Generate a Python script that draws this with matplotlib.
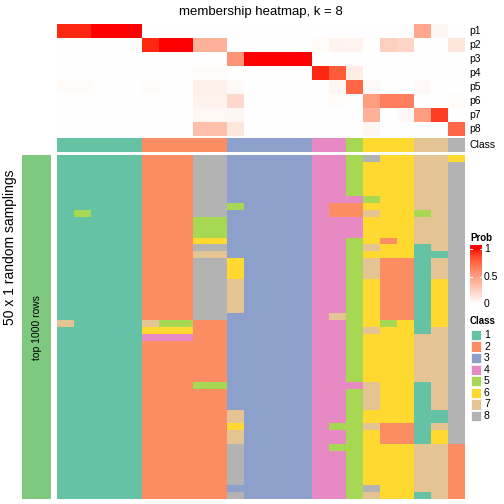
import numpy as np
import matplotlib
matplotlib.use("Agg")
import matplotlib.pyplot as plt
from matplotlib.colors import ListedColormap
from matplotlib.patches import Rectangle

# ---------------- data ----------------
title = "membership heatmap, k = 8"
prob_labels = ["p1", "p2", "p3", "p4", "p5", "p6", "p7", "p8"]
class_ids = [1, 2, 3, 4, 5, 6, 7, 8]
class_colors = ["#66C2A5", "#FC8D62", "#8DA0CB", "#E78AC3",
                "#A6D854", "#FFD92F", "#E5C494", "#B3B3B3"]
sample_class = [1, 1, 1, 1, 1, 2, 2, 2, 2, 2, 3, 3, 3, 3, 3, 4, 4, 5, 6, 6, 6, 7, 7, 8]

p1 = [0.95, 0.95, 1, 1, 1, 0, 0, 0, 0, 0, 0, 0, 0, 0, 0, 0, 0, 0, 0, 0, 0, 0.45, 0.05, 0]
p2 = [0, 0, 0, 0, 0, 0.95, 1, 1, 0.4, 0.4, 0, 0, 0, 0, 0, 0.02, 0.06, 0.06, 0, 0.25, 0.22, 0, 0, 0.13]
p3 = [0, 0, 0, 0, 0, 0, 0, 0, 0, 0, 0.55, 1, 1, 1, 1, 0, 0, 0, 0, 0, 0, 0, 0, 0]
p4 = [0, 0, 0, 0, 0, 0, 0, 0, 0.02, 0.02, 0, 0, 0, 0, 0, 0.95, 0.8, 0.1, 0, 0, 0, 0, 0, 0]
p5 = [0.02, 0.02, 0, 0, 0, 0.02, 0, 0, 0.08, 0.08, 0.03, 0, 0, 0, 0, 0, 0.05, 0.75, 0.03, 0, 0, 0.03, 0, 0]
p6 = [0, 0, 0, 0, 0, 0, 0, 0, 0.07, 0.07, 0.2, 0, 0, 0, 0, 0, 0.02, 0, 0.5, 0.65, 0.65, 0, 0, 0.02]
p7 = [0, 0, 0, 0, 0, 0, 0, 0, 0.04, 0.04, 0.05, 0, 0, 0, 0, 0, 0, 0, 0.4, 0, 0.03, 0.5, 0.9, 0]
p8 = [0, 0, 0, 0, 0, 0, 0, 0, 0.33, 0.33, 0.13, 0, 0, 0, 0, 0, 0, 0, 0.05, 0, 0, 0, 0, 0.75]

# 50 random samplings (rows) x 24 samples (columns), class per cell
samplings = [
    "111112228833333445866776",
    "111112228833333445666778",
    "111112228833333445666778",
    "111112228833333445666778",
    "111112228833333445666778",
    "111112228833333445666778",
    "111112228833333444566778",
    "111112228853333422666778",
    "151112228833333422766578",
    "111112225533333444666778",
    "111112225533333444666778",
    "111112225533333444666778",
    "111112226633333445626778",
    "111112228833333445766178",
    "111112227733333445666118",
    "111112228863333445722178",
    "111112228863333445722178",
    "111112228863333445722178",
    "111112228873333445622168",
    "111112228873333445622168",
    "111112228873333445622168",
    "111112228873333445622168",
    "111112228873333445622168",
    "111112228833333475622168",
    "711117552233333445656168",
    "111116662233333445766178",
    "111114442233333445666778",
    "111112222233333445666778",
    "111112222233333445666778",
    "111112222233333445666778",
    "111112222233333445666778",
    "111112222233333445666778",
    "111112222233333445666778",
    "111112225533333444766178",
    "111112222233333445766178",
    "111112222233333445766178",
    "111112222233333445766178",
    "111112222273333445666118",
    "111112222273333445666118",
    "111112222263333455722178",
    "111112222273333445622168",
    "111112222273333445622168",
    "111112222283333455666772",
    "111112222283333445666772",
    "111112222283333445666772",
    "111112222283333445666772",
    "111112222283333445666772",
    "111112222283333445666772",
    "111112222233333445866772",
    "111112222283333445766172",
]
row_title = "50 x 1 random samplings"
slice_title = "top 1000 rows"
legend_ticks = [0, 0.5, 1]

# ---------------- white -> red colormap in LAB space ----------------
def srgb_to_lab(rgb):
    rgb = np.asarray(rgb, float)
    lin = np.where(rgb <= 0.04045, rgb / 12.92, ((rgb + 0.055) / 1.055) ** 2.4)
    M = np.array([[0.4124, 0.3576, 0.1805], [0.2126, 0.7152, 0.0722], [0.0193, 0.1192, 0.9505]])
    xyz = M @ lin
    wp = np.array([0.95047, 1.0, 1.08883])
    t = xyz / wp
    f = np.where(t > (6 / 29) ** 3, np.cbrt(t), t / (3 * (6 / 29) ** 2) + 4 / 29)
    return np.array([116 * f[1] - 16, 500 * (f[0] - f[1]), 200 * (f[1] - f[2])])

def lab_to_srgb(lab):
    L, a, b = lab
    fy = (L + 16) / 116
    fx = fy + a / 500
    fz = fy - b / 200
    def finv(f):
        return np.where(f > 6 / 29, f ** 3, 3 * (6 / 29) ** 2 * (f - 4 / 29))
    wp = np.array([0.95047, 1.0, 1.08883])
    xyz = np.array([finv(fx), finv(fy), finv(fz)]) * wp
    Minv = np.linalg.inv(np.array([[0.4124, 0.3576, 0.1805], [0.2126, 0.7152, 0.0722], [0.0193, 0.1192, 0.9505]]))
    lin = Minv @ xyz
    lin = np.clip(lin, 0, 1)
    rgb = np.where(lin <= 0.0031308, 12.92 * lin, 1.055 * lin ** (1 / 2.4) - 0.055)
    return np.clip(rgb, 0, 1)

lab_w = srgb_to_lab([1, 1, 1])
lab_r = srgb_to_lab([1, 0, 0])
cols = [lab_to_srgb(lab_w + (lab_r - lab_w) * t) for t in np.linspace(0, 1, 256)]
prob_cmap = ListedColormap(cols)
class_cmap = ListedColormap(class_colors)

# ---------------- layout helpers ----------------
W = H = 504
fig = plt.figure(figsize=(W / 100, H / 100), dpi=100)
fig.patch.set_facecolor("white")

def ax_px(x0, y0, x1, y1):
    ax = fig.add_axes([x0 / W, 1 - y1 / H, (x1 - x0) / W, (y1 - y0) / H])
    ax.set_axis_off()
    return ax

def txt(x, y, s, **kw):
    fig.text(x / W, 1 - y / H, s, **kw)

FONT = "Liberation Sans"
plt.rcParams["font.family"] = [FONT, "DejaVu Sans"]

HX0, HX1 = 57, 465

# membership heatmap
prob = np.array([p1, p2, p3, p4, p5, p6, p7, p8])
ax = ax_px(HX0, 24, HX1, 136)
ax.imshow(prob, cmap=prob_cmap, vmin=0, vmax=1, aspect="auto", interpolation="nearest")
n_p = len(prob_labels)
for i, lab in enumerate(prob_labels):
    y = 24 + (i + 0.5) * (136 - 24) / n_p
    txt(469, y, lab, fontsize=7.5, va="center", ha="left")

# class annotation row
ax = ax_px(HX0, 138, HX1, 152)
ax.imshow(np.array([sample_class]) - 1, cmap=class_cmap, vmin=-0.5, vmax=7.5,
          aspect="auto", interpolation="nearest")
txt(469, 145, "Class", fontsize=7.5, va="center", ha="left")

# sampling heatmap
mat = np.array([[int(c) for c in r] for r in samplings])
ax = ax_px(HX0, 155, HX1, 499)
ax.imshow(mat - 1, cmap=class_cmap, vmin=-0.5, vmax=7.5, aspect="auto", interpolation="nearest")

# left slice bar
ax = ax_px(22, 155, 51, 499)
ax.add_patch(Rectangle((0, 0), 1, 1, color="#7FC97F"))
ax.set_xlim(0, 1); ax.set_ylim(0, 1)
txt(37, 327, slice_title, fontsize=7.5, rotation=90, va="center", ha="center")
txt(10, 247, row_title, fontsize=10, rotation=90, va="center", ha="center")

# title
txt(261, 12, title, fontsize=9.5, va="center", ha="center")

# Prob legend
txt(470, 238, "Prob", fontsize=7, fontweight="bold", va="center", ha="left")
y_top, y_bot = 245, 308
y1, y0 = 249, 304
ax = ax_px(470, y_top, 482, y_bot)
ys = np.linspace(y_top, y_bot, 200)
vals = np.clip((y0 - ys) / (y0 - y1), 0, 1)
ax.imshow(vals[:, None], cmap=prob_cmap, vmin=0, vmax=1, aspect="auto", interpolation="bilinear",
          extent=[0, 1, y_bot, y_top])
ax.set_xlim(0, 1); ax.set_ylim(y_bot, y_top)
for v in legend_ticks:
    yy = y0 - v * (y0 - y1)
    ax.plot([0, 0.18], [yy, yy], color="white", lw=0.8)
    ax.plot([0.82, 1], [yy, yy], color="white", lw=0.8)
    lbl = "%g" % v
    txt(484, yy, lbl, fontsize=7.5, va="center", ha="left")

# Class legend
txt(470, 321, "Class", fontsize=7, fontweight="bold", va="center", ha="left")
step = 11.57
for i, (cid, c) in enumerate(zip(class_ids, class_colors)):
    yc = 335 + i * step
    bx = ax_px(470, yc - step / 2, 482, yc + step / 2)
    bx.add_patch(Rectangle((0.05, 0.05), 0.9, 0.9, facecolor=c, edgecolor="white", lw=0.5))
    bx.set_xlim(0, 1); bx.set_ylim(0, 1)
    txt(484, yc, str(cid), fontsize=7.5, va="center", ha="left")

fig.savefig("out.png", dpi=100, facecolor="white")
